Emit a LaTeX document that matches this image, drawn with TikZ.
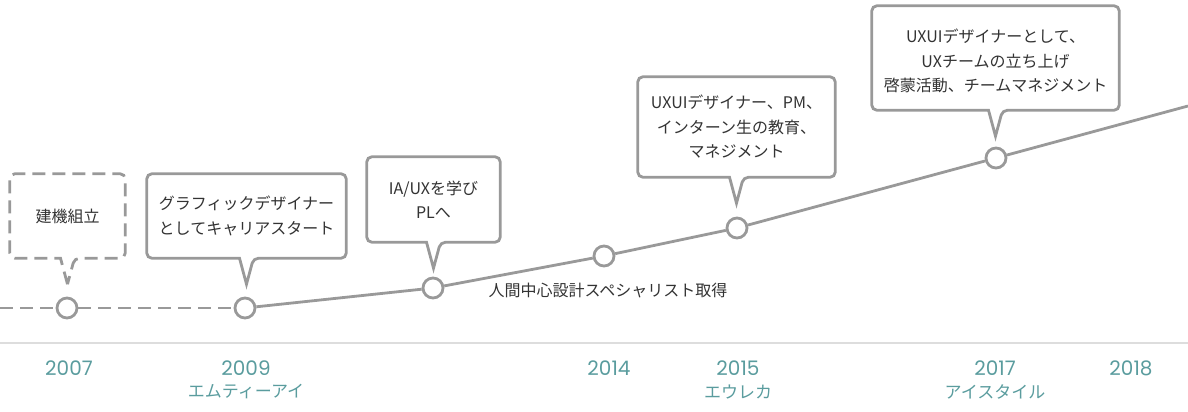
\documentclass[tikz,border=0pt]{standalone}
\usepackage{fontspec}
\newfontfamily\jp{Noto Sans CJK JP}
\newfontfamily\yearfont{Poppins}
\usetikzlibrary{calc}
\pgfdeclarelayer{bubbles}
\pgfsetlayers{bubbles,main}
\definecolor{linegray}{HTML}{999999}
\definecolor{axisgray}{HTML}{DDDDDD}
\definecolor{txt}{HTML}{333333}
\definecolor{teal}{HTML}{5A9C9E}
\tikzset{
  dot/.style={circle, draw=linegray, fill=white, line width=2.8pt, minimum size=20pt, inner sep=0pt},
  path line/.style={draw=linegray, line width=2.8pt},
  dash line/.style={draw=linegray, line width=2.8pt, dash pattern=on 13pt off 7pt},
  boxnode/.style={rectangle, inner sep=0pt, align=center, text=txt, font=\jp\fontsize{16}{24.5}\selectfont},
  bubble/.style={draw=linegray, line width=2.8pt, fill=white, line join=miter},
  year/.style={text=teal, font=\yearfont\fontsize{20}{24}\selectfont},
  company/.style={text=teal, font=\jp\fontsize{17}{20}\selectfont},
}
\newcommand\drawbubble[2]{%
  \begin{pgfonlayer}{bubbles}
  \draw[bubble,#2] ($(#1.south)+(0,26)$) -- ($(#1.south)+(-7,0)$)
    [rounded corners=5pt] -| (#1.north west) -| (#1.south east)
    -- ($(#1.south)+(7,0)$) [sharp corners] -- cycle;
  \end{pgfonlayer}
}
\begin{document}
\begin{tikzpicture}[x=1pt,y=-1pt]
\useasboundingbox (0,0) rectangle (1188,412);
% axis
\coordinate (axL) at (0,343);
\coordinate (axR) at (1188,343);
\draw[axisgray, line width=2.8pt] (axL) -- (axR);

% timeline points
\coordinate (start) at (0,308);
\node[dot] (c1) at (67,308) {};
\node[dot] (c2) at (245,308) {};
\node[dot] (c3) at (433,288) {};
\node[dot] (c4) at (604,256) {};
\node[dot] (c5) at (737,228) {};
\node[dot] (c6) at (996,158) {};
\coordinate (finish) at (1188,106);

\draw[dash line] (start) -- (c1);
\draw[dash line] (c1) -- (c2);
\draw[path line] (c2) -- (c3) -- (c4) -- (c5) -- (c6) -- (finish);

% boxes
\node[boxnode, minimum width=115pt, minimum height=84pt] (b1) at (67.5,216) {建機組立};
\node[boxnode, minimum width=199pt, minimum height=84pt] (b2) at (246.5,216) {グラフィックデザイナー\\としてキャリアスタート};
\node[boxnode, minimum width=133pt, minimum height=85pt] (b3) at (433.5,199.5) {IA/UXを学び\\PLへ};
\node[boxnode, minimum width=197pt, minimum height=100pt] (b4) at (736.5,127) {UXUIデザイナー、PM、\\インターン生の教育、\\マネジメント};
\node[boxnode, minimum width=247pt, minimum height=104pt] (b5) at (995.5,58) {};
\node[boxnode] (b5text) at ($(b5.center)+(0,3)$) {UXUIデザイナーとして、\\UXチームの立ち上げ\\啓蒙活動、チームマネジメント};

\drawbubble{b1}{dash pattern=on 13pt off 7pt}
\drawbubble{b2}{}
\drawbubble{b3}{}
\drawbubble{b4}{}
\drawbubble{b5}{}

\node[boxnode] (cert) at (608,290) {人間中心設計スペシャリスト取得};

% years
\node[year] (y2007) at (69,368) {2007};
\node[year] (y2009) at (246,368) {2009};
\node[year] (y2014) at (609,368) {2014};
\node[year] (y2015) at (738,368) {2015};
\node[year] (y2017) at (995,368) {2017};
\node[year] (y2018) at (1131,368) {2018};
\node[company] (m1) at (246,392) {エムティーアイ};
\node[company] (m2) at (738,392) {エウレカ};
\node[company] (m3) at (995,392) {アイスタイル};
\end{tikzpicture}
\end{document}
